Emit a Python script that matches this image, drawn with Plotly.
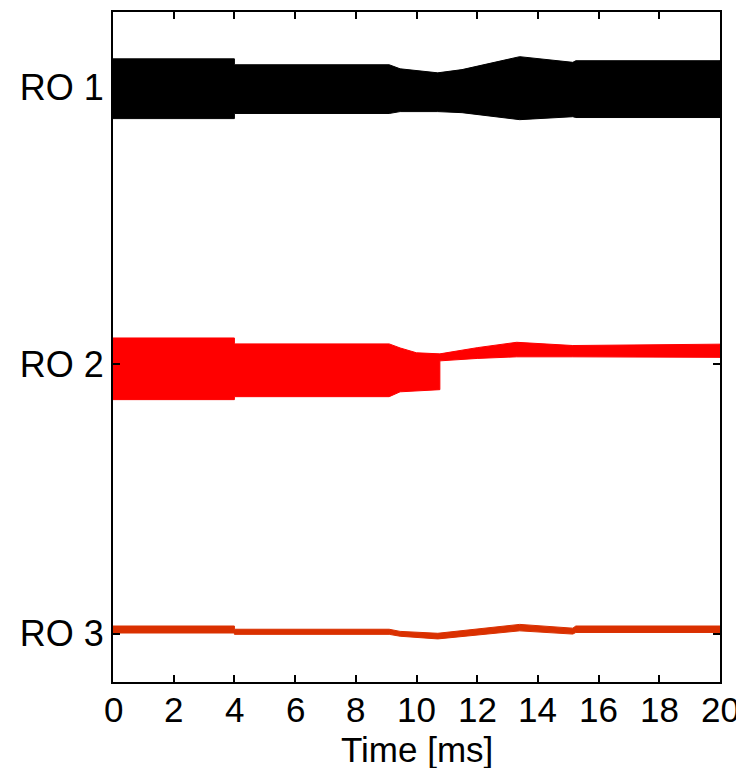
import plotly.graph_objects as go

# Time axis ticks and labels
x_ticks = [0, 2, 4, 6, 8, 10, 12, 14, 16, 18, 20]
x_tick_text = [str(v) for v in x_ticks]
x_title = "Time [ms]"
y_tick_vals = [2.03, 1.0, 0.0]
y_tick_text = ["RO 1", "RO 2", "RO 3"]

# RO 1 envelope (time in ms, upper and lower bound of the oscillation band)
ro1_t = [0, 4.0, 4.0, 9.1, 9.46, 10.7, 11.5, 13.4, 15.15, 15.25, 20]
ro1_hi = [2.135, 2.135, 2.113, 2.113, 2.098, 2.083, 2.095, 2.143, 2.122, 2.128, 2.128]
ro1_lo = [1.913, 1.913, 1.932, 1.932, 1.939, 1.939, 1.935, 1.909, 1.920, 1.917, 1.917]

# RO 2 envelope
ro2_t = [0, 4.0, 4.0, 9.1, 9.46, 10.0, 10.77, 10.77, 12.0, 13.3, 15.15, 20]
ro2_hi = [1.098, 1.098, 1.076, 1.076, 1.061, 1.043, 1.039, 1.039, 1.062, 1.082, 1.070, 1.075]
ro2_lo = [0.869, 0.869, 0.880, 0.880, 0.898, 0.902, 0.906, 1.013, 1.022, 1.028, 1.028, 1.026]

# RO 3 envelope
ro3_t = [0, 4.0, 4.0, 9.1, 9.46, 10.7, 13.4, 15.15, 15.25, 20]
ro3_hi = [0.028, 0.028, 0.016, 0.016, 0.008, 0.001, 0.034, 0.020, 0.028, 0.028]
ro3_lo = [0.002, 0.002, -0.003, -0.003, -0.010, -0.020, 0.010, -0.002, 0.004, 0.004]

series = [
    (ro1_t, ro1_hi, ro1_lo, "#000000"),
    (ro2_t, ro2_hi, ro2_lo, "#FF0000"),
    (ro3_t, ro3_hi, ro3_lo, "#DA3000"),
]

fig = go.Figure()
for t, hi, lo, col in series:
    fig.add_trace(go.Scatter(
        x=list(t) + list(t)[::-1],
        y=list(hi) + list(lo)[::-1],
        fill="toself",
        fillcolor=col,
        line=dict(color=col, width=1),
        mode="lines",
        hoverinfo="skip",
        showlegend=False,
    ))

font_family = "Liberation Sans, Arial, sans-serif"
fig.update_layout(
    width=744, height=768,
    margin=dict(l=105, r=32, t=2, b=94),
    plot_bgcolor="white", paper_bgcolor="white",
    font=dict(family=font_family, size=36, color="black"),
    showlegend=False,
)
# x tick labels placed at the axis scale positions, slightly closer to the axis
for v, s in zip(x_ticks, x_tick_text):
    fig.add_annotation(
        text=s, xref="x", yref="paper", x=v, y=0,
        xanchor="center", yanchor="middle", yshift=-27, showarrow=False,
        font=dict(family=font_family, size=35, color="black"),
    )
fig.add_annotation(
    text=x_title, xref="paper", yref="paper", x=0.5, y=0,
    xanchor="center", yanchor="middle", yshift=-67, showarrow=False,
    font=dict(family=font_family, size=35, color="black"),
)
fig.update_xaxes(
    range=[0, 20], tickvals=x_ticks, showticklabels=False,
    ticks="inside", ticklen=7, tickwidth=2, tickcolor="black",
    showline=True, linecolor="black", linewidth=2, mirror="ticks",
    showgrid=False, zeroline=False,
)
fig.update_yaxes(
    range=[-0.18, 2.309], tickvals=y_tick_vals, ticktext=y_tick_text,
    ticks="inside", ticklen=7, tickwidth=2, tickcolor="black",
    showline=True, linecolor="black", linewidth=2, mirror="ticks",
    showgrid=False, zeroline=False,
    tickfont=dict(size=36),
)

fig.write_html("out.html")
